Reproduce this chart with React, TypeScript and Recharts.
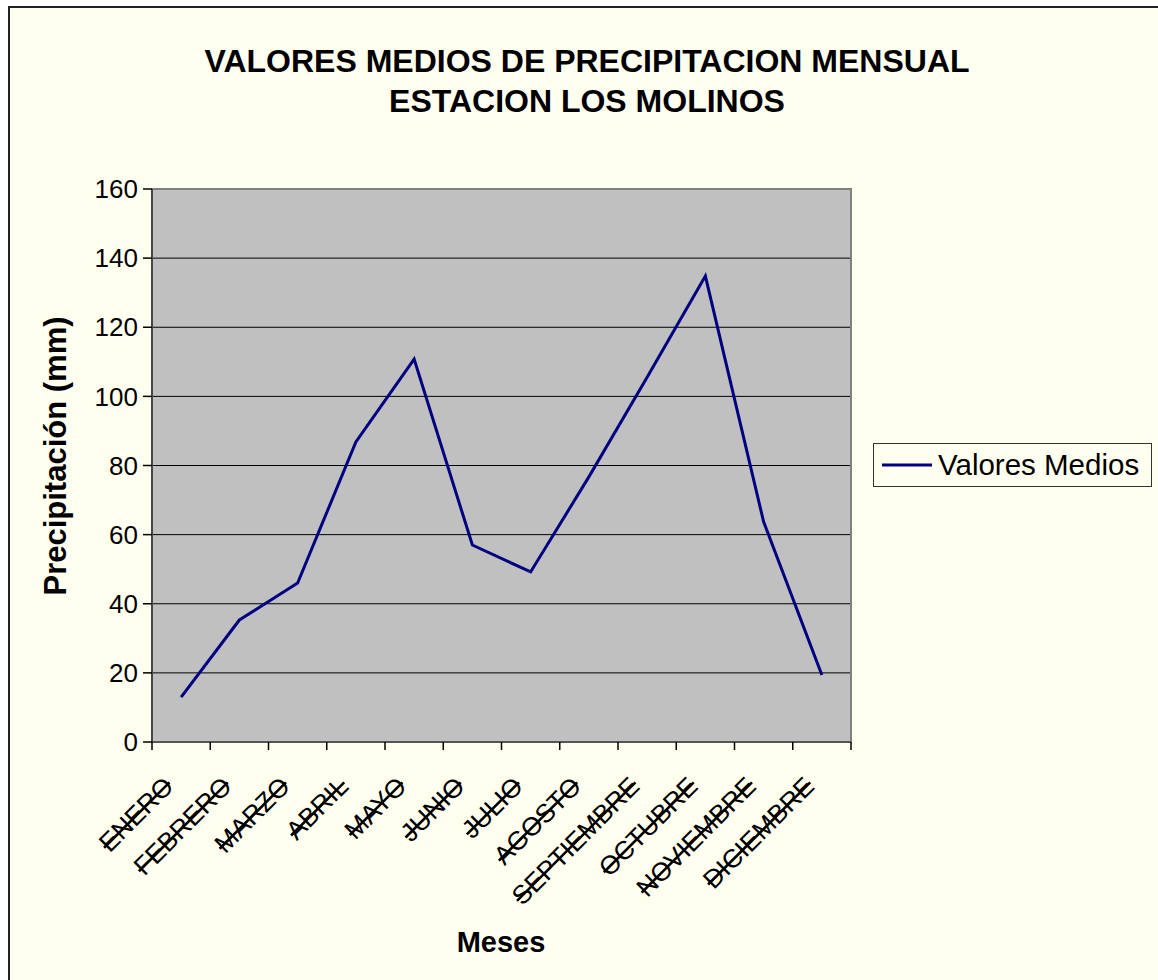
import React from 'react';
import { LineChart, Line, XAxis, YAxis, CartesianGrid, ReferenceArea } from 'recharts';

const months = ['ENERO', 'FEBRERO', 'MARZO', 'ABRIL', 'MAYO', 'JUNIO', 'JULIO', 'AGOSTO', 'SEPTIEMBRE', 'OCTUBRE', 'NOVIEMBRE', 'DICIEMBRE'];
const valores = [13.0, 35.3, 46.0, 86.8, 110.8, 57.0, 49.2, 76.7, 105.5, 134.8, 63.7, 19.4];
const yTicks = [0, 20, 40, 60, 80, 100, 120, 140, 160];
const seriesName = 'Valores Medios';
const titleLines = ['VALORES MEDIOS DE PRECIPITACION MENSUAL', 'ESTACION LOS MOLINOS'];
const xTitle = 'Meses';
const yTitle = 'Precipitación (mm)';

const data = months.map((m, i) => ({ x: i + 0.5, month: m, value: valores[i] }));
const xTicks: number[] = [];
months.forEach((_, i) => { xTicks.push(i, i + 0.5); });
xTicks.push(months.length);

const FONT = '"Liberation Sans", Arial, sans-serif';

const XTick = (props: any) => {
  const { x, y, payload } = props;
  const v = payload.value as number;
  if (Number.isInteger(v)) {
    return <line x1={x} y1={y} x2={x} y2={y + 8} stroke="#000" strokeWidth={1.5} />;
  }
  const label = months[Math.floor(v)];
  const tx = x - 6;
  const ty = y + 46;
  return (
    <text
      x={tx}
      y={ty}
      textAnchor="end"
      transform={`rotate(-45 ${tx} ${ty})`}
      fontFamily={FONT}
      fontSize={26}
      fill="#000"
      textDecoration="line-through"
      style={{ textDecoration: 'line-through' }}
    >
      {label}
    </text>
  );
};

const LegendBox = () => (
  <div style={{ position: 'absolute', left: 863, top: 435, width: 279, height: 44, border: '1.5px solid #333', background: '#FFFFF0', boxSizing: 'border-box', display: 'flex', alignItems: 'center', fontFamily: FONT }}>
    <svg width={58} height={10} style={{ marginLeft: 8 }}>
      <line x1={0} y1={5} x2={50} y2={5} stroke="#000080" strokeWidth={3} />
    </svg>
    <span style={{ fontSize: 29.5, color: '#000', marginLeft: -2 }}>{seriesName}</span>
  </div>
);

export default function App() {
  return (
    <div style={{ position: 'absolute', left: 8, top: 6, width: 1160, height: 980, border: '2px solid #222', background: '#FFFFF0', boxSizing: 'border-box', fontFamily: FONT }}>
      <div style={{ position: 'absolute', left: 0, top: 33, width: 1154, textAlign: 'center', fontWeight: 'bold', fontSize: 32, lineHeight: '40px', color: '#000' }}>
        {titleLines.map((t) => <div key={t}>{t}</div>)}
      </div>
      <div style={{ position: 'absolute', left: 431, top: 918, width: 120, textAlign: 'center', fontWeight: 'bold', fontSize: 29, color: '#000' }}>{xTitle}</div>
      <div style={{ position: 'absolute', left: 46 - 200, top: 448 - 18, width: 400, textAlign: 'center', fontWeight: 'bold', fontSize: 31, color: '#000', transform: 'rotate(-90deg)', lineHeight: '36px' }}>{yTitle}</div>
      <div style={{ position: 'absolute', left: 0, top: 0 }}>
        <LineChart width={1156} height={970} data={data} margin={{ top: 181, right: 315, bottom: 26, left: 82 }}>
          <CartesianGrid vertical={false} stroke="#000" strokeWidth={1} fill="#C0C0C0" fillOpacity={1} />
          <XAxis
            type="number"
            dataKey="x"
            domain={[0, months.length]}
            ticks={xTicks}
            interval={0}
            tick={<XTick />}
            tickLine={false}
            tickSize={0}
            tickMargin={0}
            height={210}
            axisLine={{ stroke: '#555', strokeWidth: 2 }}
          />
          <YAxis
            type="number"
            domain={[0, 160]}
            ticks={yTicks}
            interval={0}
            width={60}
            tickSize={9}
            tickMargin={5}
            tick={{ fontSize: 26, fill: '#000', fontFamily: FONT }}
            tickLine={{ stroke: '#000', strokeWidth: 1.5 }}
            axisLine={{ stroke: '#333', strokeWidth: 1.5 }}
          />
          <ReferenceArea x1={0} x2={months.length} y1={0} y2={160} fill="none" stroke="#808080" strokeWidth={2} ifOverflow="visible" />
          <Line type="linear" dataKey="value" name={seriesName} stroke="#000080" strokeWidth={3} dot={false} activeDot={false} isAnimationActive={false} />
        </LineChart>
      </div>
      <LegendBox />
    </div>
  );
}
